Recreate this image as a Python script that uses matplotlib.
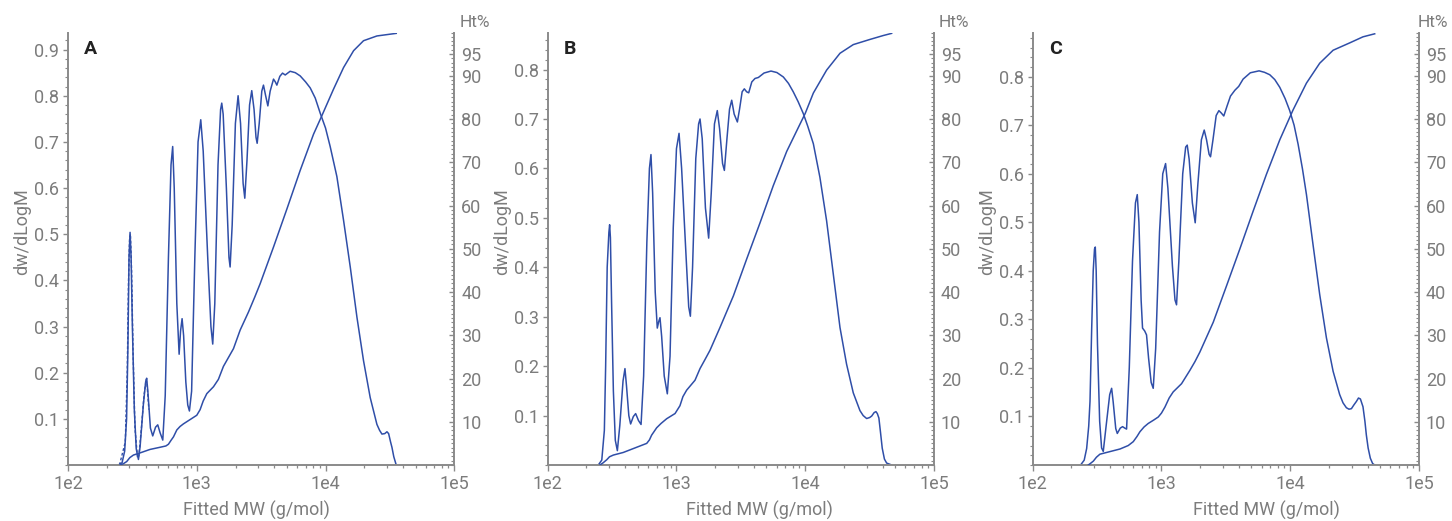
import numpy as np
import matplotlib
matplotlib.use('Agg')
import matplotlib.pyplot as plt
from matplotlib.ticker import FixedLocator, MultipleLocator, NullFormatter, LogLocator

plt.rcParams['font.family'] = ['Roboto', 'DejaVu Sans']

# ---------------- data (log10 of fitted MW, values) ----------------
panel_labels = ['A', 'B', 'C']
x_tick_values = [1e2, 1e3, 1e4, 1e5]
x_tick_labels = ['1e2', '1e3', '1e4', '1e5']
right_tick_values = [10, 20, 30, 40, 50, 60, 70, 80, 90, 95]

# Panel A: dw/dLogM
A_dw_logmw = [2.391, 2.420, 2.440, 2.455, 2.465, 2.474, 2.482, 2.490, 2.500, 2.515, 2.530, 2.547,
              2.560, 2.585, 2.603, 2.611, 2.620, 2.640, 2.658, 2.680, 2.697, 2.715, 2.736, 2.755,
              2.780, 2.800, 2.813, 2.825, 2.845, 2.863, 2.874, 2.886, 2.898, 2.915, 2.930, 2.943,
              2.960, 2.985, 3.010, 3.031, 3.050, 3.085, 3.110, 3.124, 3.140, 3.165, 3.185, 3.194,
              3.205, 3.230, 3.250, 3.259, 3.275, 3.300, 3.321, 3.340, 3.360, 3.373, 3.390, 3.410,
              3.427, 3.445, 3.460, 3.469, 3.485, 3.505, 3.518, 3.535, 3.552, 3.570, 3.596, 3.610,
              3.622, 3.645, 3.666, 3.687, 3.725, 3.765, 3.803, 3.845, 3.881, 3.920, 3.959, 4.000,
              4.036, 4.088, 4.140, 4.192, 4.244, 4.295, 4.347, 4.399, 4.420, 4.438, 4.460, 4.477,
              4.490, 4.505, 4.516, 4.530, 4.549]
A_dw_values = [0.000, 0.005, 0.030, 0.100, 0.250, 0.450, 0.504, 0.450, 0.300, 0.120, 0.035, 0.012,
               0.040, 0.130, 0.180, 0.188, 0.160, 0.080, 0.063, 0.082, 0.087, 0.070, 0.054, 0.150,
               0.450, 0.650, 0.690, 0.600, 0.350, 0.240, 0.290, 0.317, 0.280, 0.180, 0.130, 0.117,
               0.160, 0.450, 0.700, 0.748, 0.680, 0.450, 0.300, 0.262, 0.350, 0.650, 0.770, 0.784,
               0.760, 0.600, 0.450, 0.429, 0.520, 0.740, 0.800, 0.740, 0.610, 0.578, 0.660, 0.780,
               0.811, 0.770, 0.710, 0.697, 0.740, 0.810, 0.823, 0.800, 0.778, 0.810, 0.836, 0.830,
               0.823, 0.842, 0.849, 0.845, 0.853, 0.850, 0.843, 0.830, 0.817, 0.795, 0.762, 0.730,
               0.690, 0.625, 0.530, 0.429, 0.320, 0.226, 0.146, 0.088, 0.075, 0.067, 0.068, 0.072,
               0.068, 0.050, 0.038, 0.018, 0.000]
# Panel A: dashed overlay on the first peaks
A_dash_logmw = [2.400, 2.445, 2.460, 2.470, 2.478, 2.485, 2.494, 2.505, 2.520, 2.540, 2.550,
                2.570, 2.590, 2.607, 2.615, 2.628]
A_dash_values = [0.000, 0.050, 0.200, 0.400, 0.490, 0.500, 0.420, 0.250, 0.080, 0.015, 0.020,
                 0.080, 0.150, 0.185, 0.170, 0.120]
# Panel A: cumulative Ht%
A_ht_logmw = [2.404, 2.430, 2.456, 2.480, 2.508, 2.560, 2.637, 2.715, 2.760, 2.780, 2.800, 2.819,
              2.845, 2.870, 2.896, 2.948, 3.000, 3.026, 3.050, 3.078, 3.130, 3.168, 3.207, 3.245,
              3.285, 3.337, 3.402, 3.450, 3.492, 3.596, 3.700, 3.803, 3.907, 3.972, 4.062, 4.140,
              4.218, 4.295, 4.399, 4.549]
A_ht_values = [0.0, 0.3, 0.8, 1.7, 2.3, 2.8, 3.6, 4.1, 4.4, 4.8, 5.7, 6.5,
               8.1, 8.9, 9.5, 10.5, 11.5, 12.8, 14.8, 16.5, 18.1, 19.8, 22.8, 24.8,
               26.9, 31.2, 35.4, 38.8, 41.9, 50.4, 59.2, 68.1, 76.5, 80.8, 86.9, 91.9,
               95.8, 98.1, 99.2, 99.8]

# Panel B
B_dw_logmw = [2.393, 2.420, 2.440, 2.450, 2.462, 2.475, 2.481, 2.487, 2.496, 2.510, 2.525, 2.541,
              2.560, 2.585, 2.600, 2.612, 2.630, 2.644, 2.665, 2.683, 2.705, 2.725, 2.745, 2.770,
              2.790, 2.802, 2.815, 2.835, 2.851, 2.862, 2.872, 2.885, 2.905, 2.929, 2.950, 2.975,
              3.000, 3.020, 3.040, 3.075, 3.095, 3.108, 3.125, 3.150, 3.172, 3.183, 3.200, 3.225,
              3.250, 3.270, 3.295, 3.317, 3.335, 3.358, 3.372, 3.392, 3.412, 3.429, 3.448, 3.473,
              3.490, 3.510, 3.527, 3.545, 3.561, 3.585, 3.610, 3.636, 3.680, 3.734, 3.780, 3.830,
              3.870, 3.907, 3.945, 3.985, 4.020, 4.063, 4.114, 4.166, 4.218, 4.270, 4.321, 4.373,
              4.425, 4.450, 4.477, 4.500, 4.516, 4.535, 4.549, 4.560, 4.572, 4.585, 4.598, 4.615,
              4.632, 4.671]
B_dw_values = [0.000, 0.010, 0.070, 0.200, 0.400, 0.470, 0.486, 0.460, 0.330, 0.150, 0.050, 0.029,
               0.080, 0.170, 0.195, 0.160, 0.100, 0.083, 0.098, 0.104, 0.090, 0.082, 0.180, 0.450,
               0.600, 0.628, 0.550, 0.350, 0.277, 0.290, 0.298, 0.260, 0.180, 0.144, 0.220, 0.480,
               0.640, 0.671, 0.600, 0.420, 0.320, 0.301, 0.400, 0.620, 0.690, 0.700, 0.660, 0.520,
               0.459, 0.550, 0.690, 0.717, 0.680, 0.610, 0.596, 0.660, 0.720, 0.738, 0.710, 0.694,
               0.720, 0.755, 0.761, 0.755, 0.753, 0.775, 0.782, 0.784, 0.793, 0.797, 0.794, 0.785,
               0.772, 0.755, 0.735, 0.711, 0.685, 0.650, 0.582, 0.494, 0.386, 0.278, 0.204, 0.146,
               0.110, 0.100, 0.094, 0.096, 0.099, 0.106, 0.108, 0.104, 0.095, 0.065, 0.034, 0.012,
               0.004, 0.000]
B_ht_logmw = [2.406, 2.430, 2.458, 2.480, 2.510, 2.587, 2.665, 2.769, 2.790, 2.807, 2.846, 2.880,
              2.924, 2.989, 3.027, 3.050, 3.079, 3.144, 3.183, 3.220, 3.260, 3.338, 3.442, 3.545,
              3.649, 3.752, 3.856, 3.959, 4.000, 4.063, 4.166, 4.270, 4.373, 4.503, 4.606, 4.671]
B_ht_values = [0.0, 0.5, 1.2, 1.9, 2.3, 2.9, 3.8, 5.0, 5.8, 6.9, 8.6, 9.6,
               10.7, 11.9, 13.7, 15.8, 17.3, 19.6, 22.3, 24.3, 26.5, 31.8, 39.1, 47.6,
               56.0, 64.6, 72.5, 78.8, 81.3, 86.0, 91.3, 95.2, 97.2, 98.4, 99.3, 99.8]

# Panel C
C_dw_logmw = [2.372, 2.400, 2.419, 2.435, 2.445, 2.458, 2.470, 2.480, 2.486, 2.493, 2.503, 2.520,
              2.535, 2.548, 2.570, 2.598, 2.613, 2.625, 2.645, 2.657, 2.680, 2.698, 2.715, 2.729,
              2.750, 2.775, 2.798, 2.812, 2.825, 2.842, 2.853, 2.870, 2.884, 2.900, 2.920, 2.936,
              2.955, 2.985, 3.010, 3.032, 3.050, 3.085, 3.105, 3.117, 3.135, 3.165, 3.188, 3.200,
              3.215, 3.240, 3.262, 3.283, 3.310, 3.332, 3.350, 3.370, 3.381, 3.400, 3.425, 3.446,
              3.465, 3.484, 3.510, 3.536, 3.570, 3.600, 3.634, 3.690, 3.758, 3.800, 3.841, 3.880,
              3.919, 3.960, 3.996, 4.030, 4.061, 4.095, 4.126, 4.177, 4.229, 4.281, 4.333, 4.384,
              4.410, 4.436, 4.456, 4.475, 4.495, 4.514, 4.530, 4.545, 4.565, 4.580, 4.591, 4.605,
              4.622, 4.640, 4.656]
C_dw_values = [0.000, 0.010, 0.034, 0.080, 0.131, 0.280, 0.400, 0.445, 0.449, 0.400, 0.250, 0.090,
               0.035, 0.028, 0.080, 0.145, 0.158, 0.130, 0.075, 0.065, 0.076, 0.079, 0.076, 0.074,
               0.200, 0.420, 0.540, 0.557, 0.500, 0.340, 0.282, 0.276, 0.268, 0.220, 0.170, 0.158,
               0.240, 0.480, 0.600, 0.621, 0.570, 0.410, 0.340, 0.330, 0.420, 0.600, 0.655, 0.659,
               0.630, 0.540, 0.499, 0.580, 0.670, 0.690, 0.670, 0.640, 0.635, 0.670, 0.720, 0.730,
               0.725, 0.719, 0.740, 0.760, 0.772, 0.780, 0.795, 0.808, 0.812, 0.809, 0.804, 0.794,
               0.778, 0.755, 0.730, 0.700, 0.661, 0.610, 0.557, 0.454, 0.351, 0.262, 0.193, 0.145,
               0.128, 0.118, 0.115, 0.116, 0.124, 0.131, 0.138, 0.136, 0.120, 0.090, 0.062, 0.035,
               0.014, 0.003, 0.000]
C_ht_logmw = [2.432, 2.450, 2.471, 2.495, 2.522, 2.600, 2.678, 2.742, 2.781, 2.810, 2.833, 2.865,
              2.897, 2.940, 2.975, 3.000, 3.027, 3.060, 3.091, 3.156, 3.221, 3.260, 3.298, 3.402,
              3.505, 3.608, 3.712, 3.815, 3.919, 4.022, 4.126, 4.229, 4.333, 4.462, 4.565, 4.656]
C_ht_values = [0.0, 0.4, 0.9, 1.8, 2.5, 3.1, 3.7, 4.5, 5.4, 6.6, 7.7, 8.8,
               9.6, 10.4, 11.1, 12.0, 13.4, 15.5, 16.9, 18.8, 21.9, 23.9, 26.1, 33.0,
               41.4, 49.9, 58.7, 67.2, 75.2, 82.1, 88.3, 92.9, 95.9, 97.6, 99.0, 99.7]

left_ticks = {
    'A': [0.1, 0.2, 0.3, 0.4, 0.5, 0.6, 0.7, 0.8, 0.9],
    'B': [0.1, 0.2, 0.3, 0.4, 0.5, 0.6, 0.7, 0.8],
    'C': [0.1, 0.2, 0.3, 0.4, 0.5, 0.6, 0.7, 0.8],
}
left_ylim_top = {'A': 0.937, 'B': 0.875, 'C': 0.891}

# ---------------- styling ----------------
LINE = '#2f4ea8'
TXT = '#7c7c7c'
SPINE = '#8a8a8a'
DARK = '#222222'
W, H = 1452, 521

fig = plt.figure(figsize=(W / 100, H / 100), dpi=100)
fig.patch.set_facecolor('white')

panel_left_px = {'A': 68, 'B': 547.7, 'C': 1032.7}
xlabel_center_px = {'A': 256, 'B': 759, 'C': 1266}
ht_offset_px = {'A': 5, 'B': 5, 'C': -1.5}
ax_w_px = 386.3
ax_bottom_px = 465
ax_top_px = 32.5
ax_h_px = ax_bottom_px - ax_top_px

series = {
    'A': (A_dw_logmw, A_dw_values, A_ht_logmw, A_ht_values),
    'B': (B_dw_logmw, B_dw_values, B_ht_logmw, B_ht_values),
    'C': (C_dw_logmw, C_dw_values, C_ht_logmw, C_ht_values),
}

for key in panel_labels:
    lx = panel_left_px[key]
    ax = fig.add_axes([lx / W, (H - ax_bottom_px) / H, ax_w_px / W, ax_h_px / H])
    dw_x, dw_y, ht_x, ht_y = series[key]

    ax.set_xscale('log')
    ax.set_xlim(1e2, 1e5)
    ax.set_ylim(0, left_ylim_top[key])
    ax.plot(10 ** np.array(dw_x), dw_y, color=LINE, lw=1.1, solid_joinstyle='round')
    if key == 'A':
        ax.plot(10 ** np.array(A_dash_logmw), A_dash_values, color=LINE, lw=1.0, ls=(0, (2, 1.5)))

    ax2 = ax.twinx()
    ax2.set_ylim(0, 100)
    ax2.plot(10 ** np.array(ht_x), ht_y, color=LINE, lw=1.1)

    for a in (ax, ax2):
        a.spines['top'].set_visible(False)
        for s in a.spines.values():
            s.set_color(SPINE)
            s.set_linewidth(1.4)
    ax.spines['right'].set_visible(False)
    ax2.spines['left'].set_visible(False)
    ax2.spines['bottom'].set_visible(False)

    # x ticks
    ax.xaxis.set_major_locator(FixedLocator(x_tick_values))
    ax.set_xticklabels(x_tick_labels)
    ax.xaxis.set_minor_locator(LogLocator(base=10, subs=np.arange(2, 10)))
    ax.xaxis.set_minor_formatter(NullFormatter())
    ax.tick_params(axis='x', which='major', direction='out', length=4, width=1, color=SPINE,
                   labelsize=13, labelcolor=TXT, pad=3)
    ax.tick_params(axis='x', which='minor', direction='out', length=2.5, width=0.9, color=SPINE)

    # left y ticks
    ax.yaxis.set_major_locator(FixedLocator(left_ticks[key]))
    ax.set_yticklabels([f'{v:.1f}' for v in left_ticks[key]])
    ax.yaxis.set_minor_locator(MultipleLocator(0.02))
    ax.tick_params(axis='y', which='major', direction='out', length=3.5, width=1, color=SPINE,
                   labelsize=13, labelcolor=TXT, pad=3)
    ax.tick_params(axis='y', which='minor', direction='out', length=2, width=0.8, color=SPINE)

    # right y ticks
    ax2.yaxis.set_major_locator(FixedLocator(right_tick_values))
    ax2.set_yticklabels([str(v) for v in right_tick_values])
    ax2.yaxis.set_minor_locator(MultipleLocator(1))
    ax2.tick_params(axis='y', which='major', direction='in', length=3.5, width=1, color=SPINE,
                    labelsize=13, labelcolor=TXT, pad=5)
    ax2.tick_params(axis='y', which='minor', direction='in', length=2, width=0.8, color=SPINE)

    # labels
    ax.set_ylabel('dw/dLogM', fontsize=13, color=TXT, va='center')
    ax.yaxis.set_label_coords(-46 / ax_w_px, (ax_bottom_px - 232) / ax_h_px)
    ax.set_xlabel('Fitted MW (g/mol)', fontsize=13, color=TXT, va='center')
    ax.xaxis.set_label_coords((xlabel_center_px[key] - lx) / ax_w_px, (ax_bottom_px - 510) / ax_h_px)
    ax.text(1 + ht_offset_px[key] / ax_w_px, (ax_bottom_px - 22) / ax_h_px, 'Ht%',
            transform=ax.transAxes, fontsize=12.5, color=TXT, ha='left', va='center')
    ax.text(16 / ax_w_px, (ax_bottom_px - 49) / ax_h_px, key, transform=ax.transAxes,
            fontsize=14, fontweight='bold', color=DARK, ha='left', va='center')

fig.savefig('out.png', dpi=100, facecolor='white')
